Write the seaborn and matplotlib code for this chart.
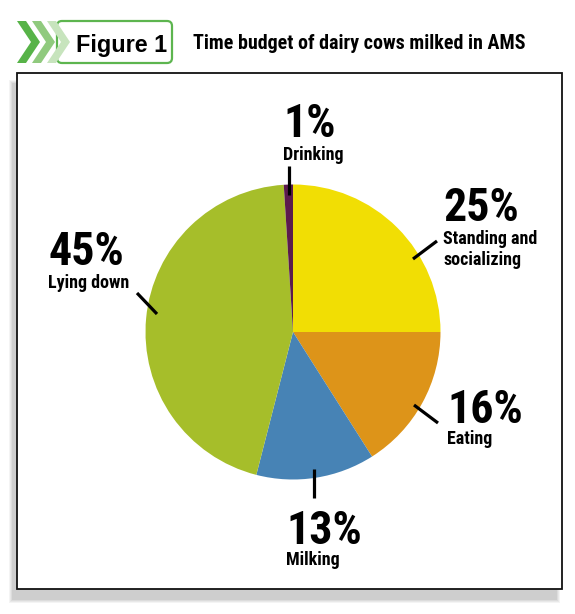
import matplotlib
matplotlib.use('Agg')
import matplotlib.pyplot as plt
import seaborn as sns
from matplotlib import font_manager
from matplotlib.patches import Rectangle, Polygon, FancyBboxPatch

# data
activities = ['Standing and\nsocializing', 'Eating', 'Milking', 'Lying down', 'Drinking']
shares = [25, 16, 13, 45, 1]
colors = ['#F1DE04', '#DD9419', '#4783B5', '#A6BE2A', '#5B1B4D']
title = 'Time budget of dairy cows milked in AMS'
fig_label = 'Figure 1'

W, H = 575, 614
sns.set_theme(style='white')

names = {f.name for f in font_manager.fontManager.ttflist}
narrow = next((n for n in ['Roboto Condensed', 'Archivo Narrow', 'Barlow Semi Condensed',
                           'Fira Sans Condensed'] if n in names), 'DejaVu Sans')
NARROW = dict(family=[narrow, 'DejaVu Sans'])
plt.rcParams['font.family'] = ['Liberation Sans', 'DejaVu Sans']
plt.rcParams['text.color'] = 'black'


def Y(y):
    # image row -> data y
    return H - y


fig = plt.figure(figsize=(W / 100, H / 100), dpi=100)
ax = fig.add_axes([0, 0, 1, 1])

# framed panel with soft shadow
for i, a in enumerate([0.10, 0.12, 0.15, 0.2]):
    g = 3 - i
    ax.add_patch(Rectangle((12 - g, Y(600) - g), 545 + 2 * g, 517 + 2 * g,
                           facecolor='#999999', edgecolor='none', alpha=a, zorder=0))
ax.add_patch(Rectangle((17, Y(589)), 545, 516, facecolor='white',
                       edgecolor='#111111', lw=1.3, zorder=1))

# pie
ax.pie(shares, colors=colors, startangle=90, counterclock=False,
       center=(293, Y(332)), radius=147.5, frame=True,
       wedgeprops=dict(linewidth=0, zorder=2))
ax.set_xlim(0, W)
ax.set_ylim(0, H)
ax.axis('off')

# label layout: (text x, pct baseline, name baseline, leader line)
layout = {
    'Standing and\nsocializing': (443, 221, 244, ((413, 259), (437, 241))),
    'Eating': (447, 423, 444, ((414, 405), (438, 423))),
    'Milking': (286, 544, 565, ((314, 469), (314, 498))),
    'Lying down': (48, 265, 288, ((137, 293), (157, 314))),
    'Drinking': (283, 137, 160, ((289, 166), (289, 195))),
}
for name, v in zip(activities, shares):
    tx, py, ny, ((x0, y0), (x1, y1)) = layout[name]
    ax.text(tx, Y(py), f'{v}%', fontsize=33, fontweight='bold', va='baseline',
            ha='left', zorder=5, **NARROW)
    for k, line in enumerate(name.split('\n')):
        ax.text(tx, Y(ny + 21 * k), line, fontsize=13, fontweight='bold',
                va='baseline', ha='left', zorder=5, **NARROW)
    ax.plot([x0, x1], [Y(y0), Y(y1)], color='black', lw=2.3,
            solid_capstyle='butt', zorder=6)

# header: chevrons + boxed figure label + title
ax.add_patch(FancyBboxPatch((57, Y(63)), 115, 42, boxstyle='round,pad=0,rounding_size=5',
                            facecolor='white', edgecolor='#5DB54F', lw=1.6, zorder=3))
chev_cols = ['#57B348', '#90CA7E', '#C7E4BD']
for i, c in enumerate(chev_cols):
    x0 = 17 + 15 * i
    pts = [(x0, Y(21)), (x0 + 9, Y(21)), (x0 + 23, Y(42)), (x0 + 9, Y(63)),
           (x0, Y(63)), (x0 + 14, Y(42))]
    ax.add_patch(Polygon(pts, closed=True, facecolor=c, edgecolor='none', zorder=4 - i * 0.1))
ax.text(76, Y(52), fig_label, fontsize=16.8, fontweight='bold', va='baseline',
        ha='left', zorder=5)
ax.text(193, Y(49), title, fontsize=14.4, fontweight='bold', va='baseline',
        ha='left', zorder=5, **NARROW)

fig.savefig('out.png', dpi=100, facecolor='white')
